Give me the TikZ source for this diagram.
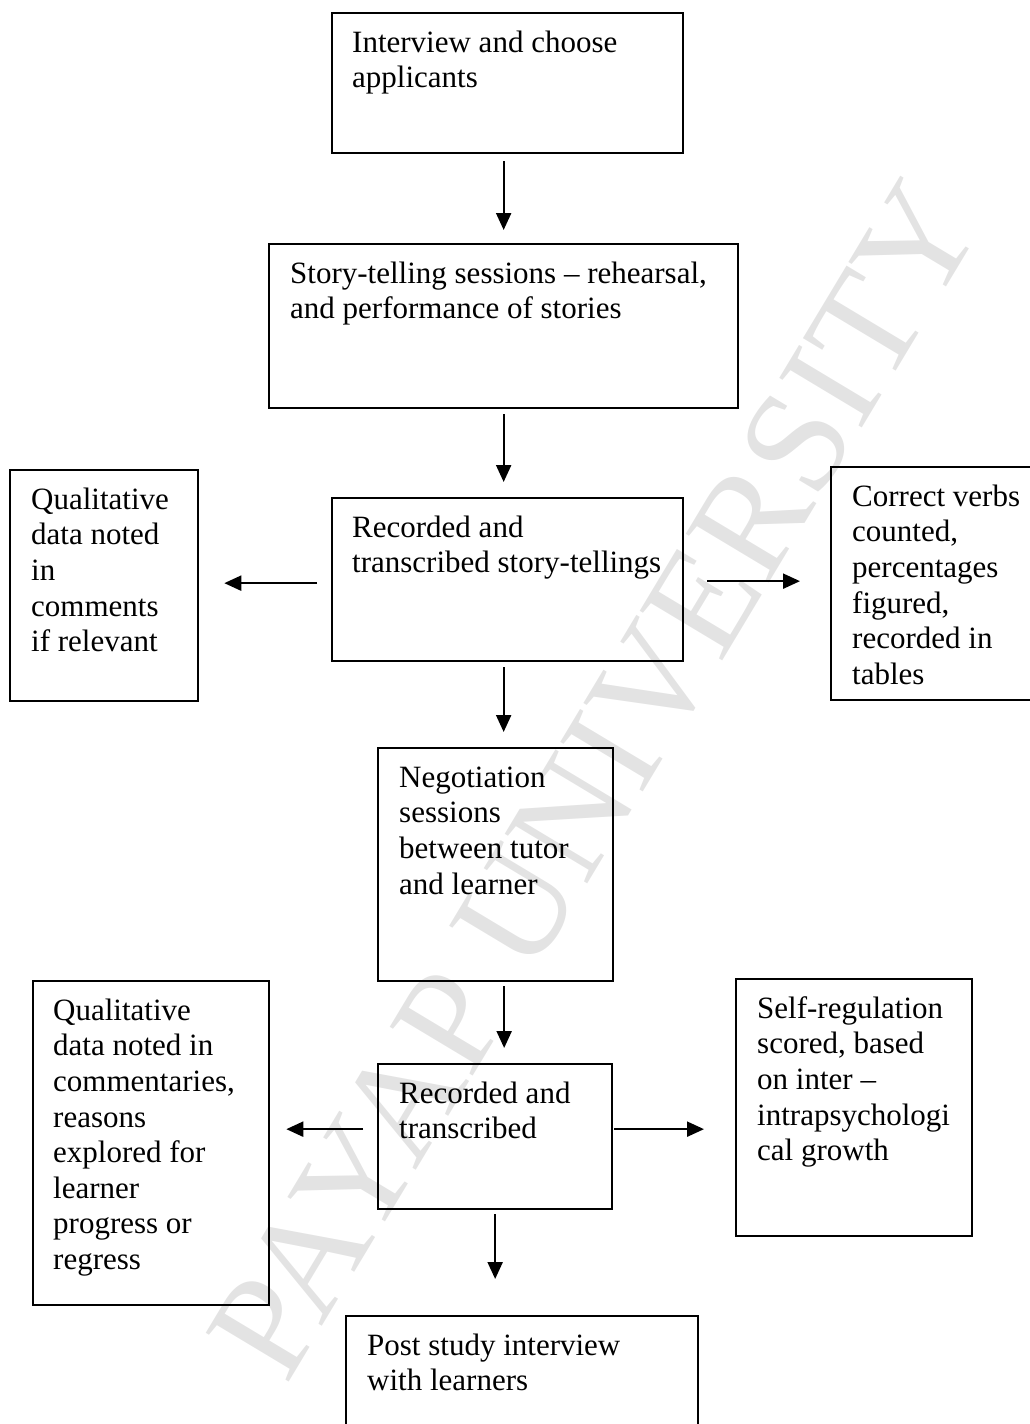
\documentclass[tikz,border=0pt]{standalone}
\usepackage{fontspec}
\setmainfont{Liberation Serif}
\usetikzlibrary{arrows.meta}
\begin{document}
\begin{tikzpicture}[x=1pt,y=-1pt,
  box/.style={draw, line width=2.3pt, anchor=north west, inner sep=0pt, rectangle},
  txt/.style={anchor=north west, inner sep=0pt, align=left, font=\fontsize{31}{35.6}\selectfont},
  arr/.style={line width=2.2pt, -{Triangle[length=17pt,width=15pt]}},
  wmark/.style={rotate=59, text=gray!22, inner sep=0pt, font=\fontsize{147}{150}\selectfont}]
\useasboundingbox (0,0) rectangle (1030,1424);
\clip (0,0) rectangle (1030,1424);
% watermark
\node[wmark] (wm) at (595,780) {PAYAP UNIVERSITY};
% boxes
\node[box, minimum width=351pt, minimum height=140pt] (b1) at (331,12) {};
\node[box, minimum width=469pt, minimum height=164pt] (b2) at (268,243) {};
\node[box, minimum width=351pt, minimum height=163pt] (b3) at (331,497) {};
\node[box, minimum width=188pt, minimum height=231pt] (l1) at (9,469) {};
\node[box, minimum width=204pt, minimum height=233pt] (r1) at (830,466) {};
\node[box, minimum width=235pt, minimum height=233pt] (b4) at (377,747) {};
\node[box, minimum width=234pt, minimum height=145pt] (b5) at (377,1063) {};
\node[box, minimum width=236pt, minimum height=324pt] (l2) at (32,980) {};
\node[box, minimum width=236pt, minimum height=257pt] (r2) at (735,978) {};
\node[box, minimum width=352pt, minimum height=130pt] (b6) at (345,1315) {};
% texts
\node[txt] (t1) at ([xshift=21pt]b1.north west) {\rule{0pt}{40pt}Interview and choose\\applicants};
\node[txt] (t2) at ([xshift=22pt]b2.north west) {\rule{0pt}{40pt}Story-telling sessions – rehearsal,\\and performance of stories};
\node[txt] (t3) at ([xshift=21pt]b3.north west) {\rule{0pt}{40pt}Recorded and\\transcribed story-tellings};
\node[txt] (tl1) at ([xshift=22pt]l1.north west) {\rule{0pt}{40pt}Qualitative\\data noted\\in\\comments\\if relevant};
\node[txt] (tr1) at ([xshift=22pt]r1.north west) {\rule{0pt}{40pt}Correct verbs\\counted,\\percentages\\figured,\\recorded in\\tables};
\node[txt] (t4) at ([xshift=22pt]b4.north west) {\rule{0pt}{40pt}Negotiation\\sessions\\between tutor\\and learner};
\node[txt] (t5) at ([xshift=22pt]b5.north west) {\rule{0pt}{40pt}Recorded and\\transcribed};
\node[txt] (tl2) at ([xshift=21pt]l2.north west) {\rule{0pt}{40pt}Qualitative\\data noted in\\commentaries,\\reasons\\explored for\\learner\\progress or\\regress};
\node[txt] (tr2) at ([xshift=22pt]r2.north west) {\rule{0pt}{40pt}Self-regulation\\scored, based\\on inter –\\intrapsychologi\\cal growth};
\node[txt] (t6) at ([xshift=22pt]b6.north west) {\rule{0pt}{40pt}Post study interview\\with learners};
% arrows
\draw[arr, shorten <=7pt, shorten >=13pt] (b2.north |- b1.south) -- (b2.north);
\draw[arr, shorten <=5pt, shorten >=15pt] (b2.south) -- (b2.south |- b3.north);
\draw[arr, shorten <=5pt, shorten >=15pt] ([xshift=-4pt]b3.south) -- ([xshift=-4pt]b3.south |- b4.north);
\draw[arr, shorten <=4pt, shorten >=15pt] ([xshift=8.5pt]b4.south) -- ([xshift=8.5pt]b4.south |- b5.north);
\draw[arr, shorten <=4pt, shorten >=36pt] (b5.south) -- (b5.south |- b6.north);
\draw[arr, shorten <=14pt, shorten >=25pt] ([yshift=-3.5pt]b3.west) -- ([yshift=-3.5pt]b3.west -| l1.east);
\draw[arr, shorten <=23pt, shorten >=30pt] ([yshift=-1.5pt]b3.east) -- ([yshift=-1.5pt]b3.east -| r1.west);
\draw[arr, shorten <=14pt, shorten >=16pt] ([yshift=7.5pt]b5.west) -- ([yshift=7.5pt]b5.west -| l2.east);
\draw[arr, shorten <=1pt, shorten >=31pt] ([yshift=7.5pt]b5.east) -- ([yshift=7.5pt]b5.east -| r2.west);
\end{tikzpicture}
\end{document}
